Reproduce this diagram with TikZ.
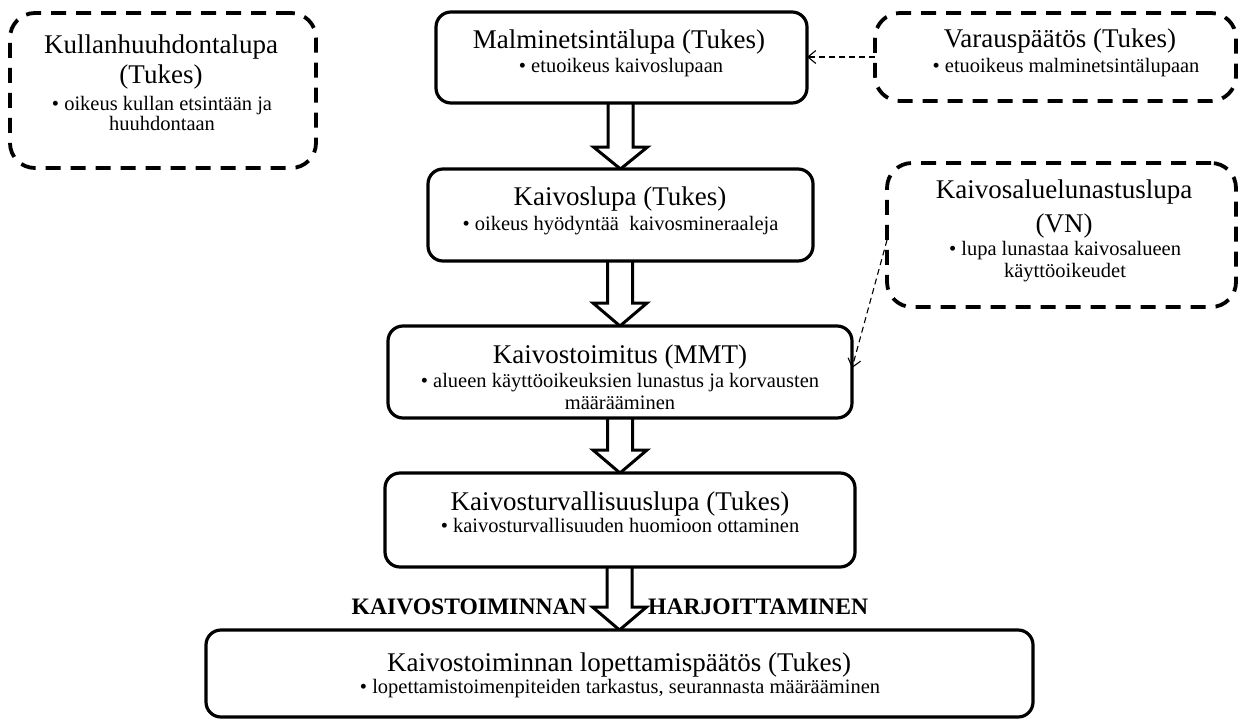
\documentclass[tikz,border=0pt]{standalone}
\usepackage{fontspec}
\setmainfont{Liberation Serif}
\usetikzlibrary{calc,arrows.meta,backgrounds}
\tikzset{
 sbox/.style={draw, rounded corners=15pt, line width=3.2pt, fill=white, inner sep=0pt, outer sep=0pt},
 dbox/.style={draw, rounded corners=25pt, line width=3.8pt, dash pattern=on 15pt off 10pt, fill=white, inner sep=0pt, outer sep=0pt},
 ttl/.style={font=\fontsize{27}{30}\selectfont, inner sep=0pt, anchor=base},
 bul/.style={font=\fontsize{20.5}{22}\selectfont, inner sep=0pt, anchor=base},
 lbl/.style={font=\bfseries\fontsize{23.6}{26}\selectfont, inner sep=0pt},
 conn/.style={line width=1.1pt, dash pattern=on 6pt off 4pt, -{Straight Barb[length=8pt,width=13pt,line width=1.1pt]}},
 barrow/.style={draw, line width=3pt, fill=white, line join=miter},
}
\newcommand\blockarr[3]{%
 \draw[barrow] ($(#2.north |- #1.south)+(-12.5,0)$) -- ($(#2.north)+(-12.5,-#3)$) -- ($(#2.north)+(-27,-#3)$) -- (#2.north) -- ($(#2.north)+(27,-#3)$) -- ($(#2.north)+(12.5,-#3)$) -- ($(#2.north |- #1.south)+(12.5,0)$);}
\begin{document}
\begin{tikzpicture}[x=1pt,y=-1pt]
\useasboundingbox (0,0) rectangle (1238,720);
% boxes
\node[dbox, minimum width=306pt, minimum height=155pt] (kullan) at (163,90.5) {};
\node[sbox, minimum width=371pt, minimum height=91pt] (malmi) at (621.5,57.5) {};
\node[dbox, minimum width=361pt, minimum height=88pt] (varaus) at (1055.5,57) {};
\node[sbox, minimum width=385pt, minimum height=92pt] (lupa) at (620.5,215) {};
\node[dbox, minimum width=349pt, minimum height=144pt] (alue) at (1061.5,235) {};
\node[sbox, minimum width=464pt, minimum height=92pt] (toimitus) at (620,372) {};
\node[sbox, minimum width=470pt, minimum height=94pt] (turv) at (620,520) {};
\node[sbox, minimum width=827pt, minimum height=87pt] (lopetus) at (619.5,673.5) {};
% block arrows
\begin{scope}[on background layer]
\blockarr{malmi}{lupa}{22}
\blockarr{lupa}{toimitus}{23}
\blockarr{toimitus}{turv}{23}
\blockarr{turv}{lopetus}{23}
\end{scope}
% texts
\node[ttl] (k1) at (161,53) {Kullanhuuhdontalupa};
\node[ttl] (k2) at (161,83) {(Tukes)};
\node[bul] (k3) at (162,110) {• oikeus kullan etsintään ja};
\node[bul] (k4) at (162,130) {huuhdontaan};
\node[ttl] (m1) at (619,48) {Malminetsintälupa (Tukes)};
\node[bul] (m2) at (621,72) {• etuoikeus kaivoslupaan};
\node[ttl] (v1) at (1060,47) {Varauspäätös (Tukes)};
\node[bul] (v2) at (1066,72) {• etuoikeus malminetsintälupaan};
\node[ttl] (l1) at (620,205) {Kaivoslupa (Tukes)};
\node[bul] (l2) at (620.5,230) {• oikeus hyödyntää~ kaivosmineraaleja};
\node[ttl] (a1) at (1064,198) {Kaivosaluelunastuslupa};
\node[ttl] (a2) at (1064,232) {(VN)};
\node[bul] (a3) at (1065,255) {• lupa lunastaa kaivosalueen};
\node[bul] (a4) at (1065,277) {käyttöoikeudet};
\node[ttl] (t1) at (620,363) {Kaivostoimitus (MMT)};
\node[bul] (t2) at (620,387) {• alueen käyttöoikeuksien lunastus ja korvausten};
\node[bul] (t3) at (620,409) {määrääminen};
\node[ttl] (s1) at (620,510) {Kaivosturvallisuuslupa (Tukes)};
\node[bul] (s2) at (620,532) {• kaivosturvallisuuden huomioon ottaminen};
\node[lbl, anchor=base east] (lk) at (587,614) {KAIVOSTOIMINNAN};
\node[lbl, anchor=base west] (lh) at (648,614) {HARJOITTAMINEN};
\node[ttl] (p1) at (619,671) {Kaivostoiminnan lopettamispäätös (Tukes)};
\node[bul] (p2) at (620,693) {• lopettamistoimenpiteiden tarkastus, seurannasta määrääminen};
% connectors
\draw[conn] (varaus.west) -- (malmi.east |- varaus.west);
\draw[conn] ($(alue.west)+(0,5)$) -- ($(toimitus.east)+(0,-4)$);
\end{tikzpicture}
\end{document}
